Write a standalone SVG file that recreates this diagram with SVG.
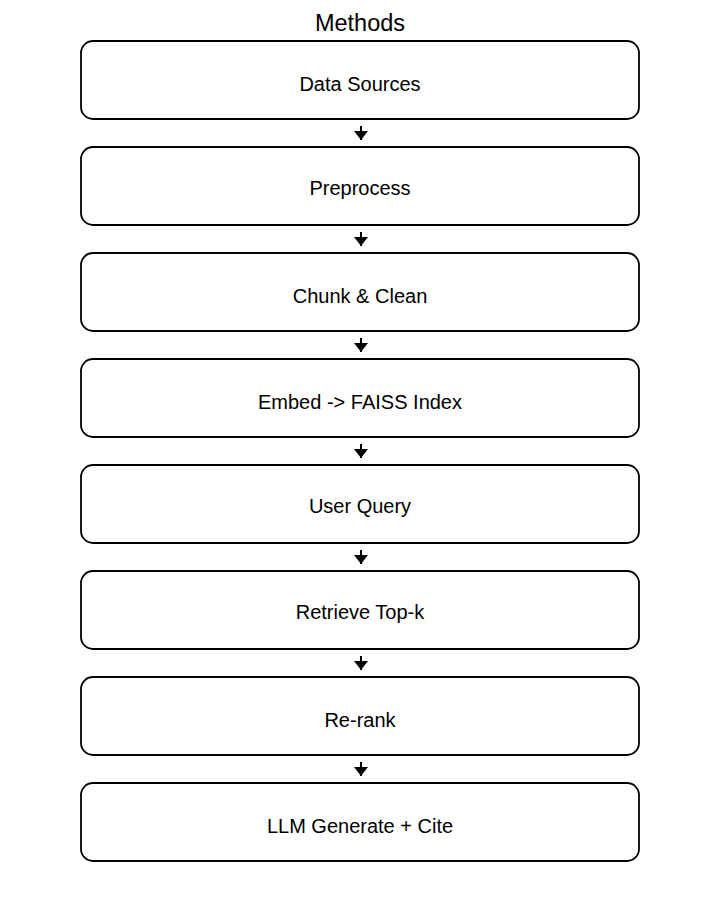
<svg xmlns="http://www.w3.org/2000/svg" width="720" height="902" viewBox="0 0 720 902">
<defs>
<style>
.box{fill:#fff;stroke:#000;stroke-width:1.8}
.lbl{font-family:"Liberation Sans",Arial,sans-serif;font-size:20px;fill:#000;text-anchor:middle}
.title{font-family:"Liberation Sans",Arial,sans-serif;font-size:23.5px;fill:#000;text-anchor:middle}
.conn{stroke:#000;stroke-width:2;fill:none}
</style>
</defs>
<rect width="720" height="902" fill="#fff"/>
<text class="title" x="360" y="31">Methods</text>
<g id="connectors">
<path class="conn" d="M361,126 V140"/>
<path class="conn" d="M361,232 V246"/>
<path class="conn" d="M361,338 V352"/>
<path class="conn" d="M361,444 V458"/>
<path class="conn" d="M361,550 V564"/>
<path class="conn" d="M361,656 V670"/>
<path class="conn" d="M361,762 V776"/>
<g fill="#000">
<path d="M354,131 L368,131 L361,140 Z"/>
<path d="M354,237 L368,237 L361,246 Z"/>
<path d="M354,343 L368,343 L361,352 Z"/>
<path d="M354,449 L368,449 L361,458 Z"/>
<path d="M354,555 L368,555 L361,564 Z"/>
<path d="M354,661 L368,661 L361,670 Z"/>
<path d="M354,767 L368,767 L361,776 Z"/>
</g>
</g>
<g id="n1"><rect class="box" x="81" y="41" width="558" height="78" rx="12"/><text class="lbl" x="360" y="91">Data Sources</text></g>
<g id="n2"><rect class="box" x="81" y="147" width="558" height="78" rx="12"/><text class="lbl" x="360" y="195">Preprocess</text></g>
<g id="n3"><rect class="box" x="81" y="253" width="558" height="78" rx="12"/><text class="lbl" x="360" y="303">Chunk &amp; Clean</text></g>
<g id="n4"><rect class="box" x="81" y="359" width="558" height="78" rx="12"/><text class="lbl" x="360" y="409">Embed -&gt; FAISS Index</text></g>
<g id="n5"><rect class="box" x="81" y="465" width="558" height="78" rx="12"/><text class="lbl" x="360" y="513">User Query</text></g>
<g id="n6"><rect class="box" x="81" y="571" width="558" height="78" rx="12"/><text class="lbl" x="360" y="619">Retrieve Top-k</text></g>
<g id="n7"><rect class="box" x="81" y="677" width="558" height="78" rx="12"/><text class="lbl" x="360" y="727">Re-rank</text></g>
<g id="n8"><rect class="box" x="81" y="783" width="558" height="78" rx="12"/><text class="lbl" x="360" y="833">LLM Generate + Cite</text></g>
</svg>
